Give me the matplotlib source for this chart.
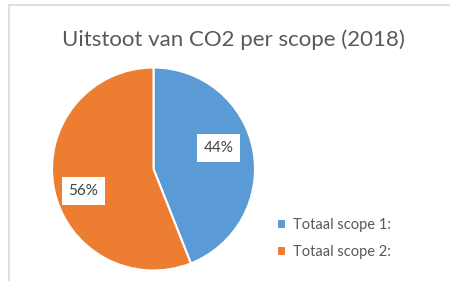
import matplotlib
matplotlib.use("Agg")
import matplotlib.pyplot as plt
from matplotlib.patches import Rectangle

categories = ["Totaal scope 1:", "Totaal scope 2:"]
values = [44, 56]
colors = ["#5B9BD5", "#ED7D31"]
title = "Uitstoot van CO2 per scope (2018)"
# data-label positions (pie radius units), as placed in the reference ("best fit")
label_pos = [(0.64, 0.21), (-0.69, -0.22)]

W, H = 450, 281
fig = plt.figure(figsize=(W / 100, H / 100), dpi=100)
fig.patch.set_facecolor("white")

# chart frame (cropped at right/bottom)
fig.patches.append(Rectangle((9 / W, -0.1), 1.2, (H - 5) / H + 0.1, transform=fig.transFigure,
                             fill=False, edgecolor="#D9D9D9", linewidth=1.2))

cx, cy, r = 153.5, 169, 101.5
ax = fig.add_axes([(cx - r) / W, (H - cy - r) / H, 2 * r / W, 2 * r / H])
wedges, texts, autotexts = ax.pie(values, colors=colors, startangle=90, counterclock=False,
                                  autopct="%1.0f%%", pctdistance=0.7, radius=1,
                                  wedgeprops=dict(edgecolor="white", linewidth=1.5),
                                  textprops=dict(fontsize=11, color="#404040", family="Lato"))
ax.set_xlim(-1, 1)
ax.set_ylim(-1, 1)
ax.set_aspect("auto")
for t, p in zip(autotexts, label_pos):
    t.set_position(p)
    t.set_bbox(dict(facecolor="white", edgecolor="none", pad=5))

fig.text(233 / W, 1 - 40 / H, title, ha="center", va="center", fontsize=16,
         color="#595959", family="Lato")

leg = fig.legend(wedges, categories, loc="upper left", bbox_to_anchor=(264 / W, 1 - 205 / H),
                 frameon=False, handlelength=0.6, handleheight=0.6,
                 handletextpad=0.5, labelspacing=0.9, prop=dict(family="Lato", size=10.5))
for t in leg.get_texts():
    t.set_color("#595959")

fig.savefig("out.png", dpi=100, facecolor="white")
